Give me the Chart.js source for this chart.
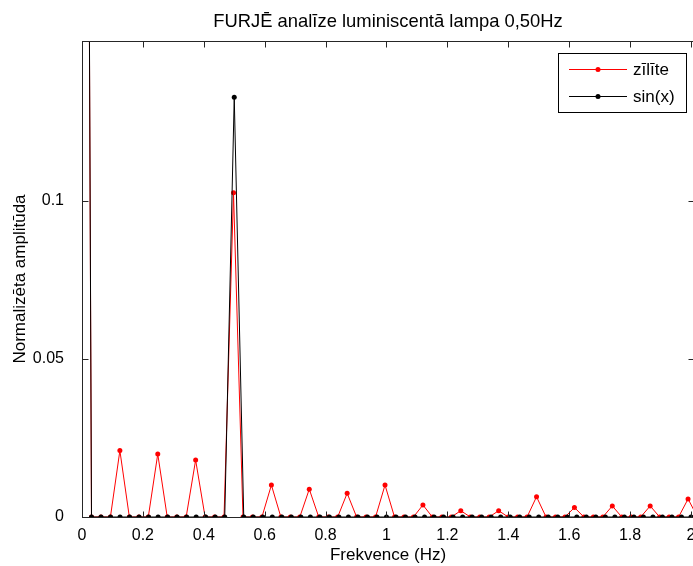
<!DOCTYPE html>
<html>
<head>
<meta charset="utf-8">
<script src="https://cdn.jsdelivr.net/npm/chart.js@4.4.1/dist/chart.umd.min.js"></script>
<style>
  html, body { margin: 0; padding: 0; background: #fff; overflow: hidden; }
  #wrap { width: 700px; height: 566px; }
</style>
</head>
<body>
<div id="wrap"><canvas id="chart" width="700" height="566"></canvas></div>
<script>
const titleText = 'FURJĒ analīze luminiscentā lampa 0,50Hz';
const xTitle = 'Frekvence (Hz)';
const yTitle = 'Normalizēta amplitūda';
const xTicks = [0, 0.2, 0.4, 0.6, 0.8, 1, 1.2, 1.4, 1.6, 1.8, 2];
const yTicks = [0, 0.05, 0.1];

// frequency resolution of each spectrum (Hz per bin)
const redStep = 0.0311;
const blackStep = 0.03125;

// "zīlīte" spectrum, bins 0..65
const redAmp = [
  0.7, 0, 0, 0, 0.021, 0, 0, 0,
  0.0199, 0, 0, 0, 0.018, 0, 0, 0,
  0.1025, 0, 0, 0, 0.0101, 0, 0, 0,
  0.0088, 0, 0, 0, 0.0075, 0, 0, 0,
  0.0101, 0, 0, 0, 0.0038, 0, 0, 0,
  0.002, 0, 0, 0, 0.002, 0, 0, 0,
  0.0064, 0, 0, 0, 0.003, 0, 0, 0,
  0.0035, 0, 0, 0, 0.0035, 0, 0, 0,
  0.0057, 0
];

// "sin(x)" spectrum, bins 0..65
const blackAmp = [
  0.7, 0, 0, 0, 0, 0, 0, 0,
  0, 0, 0, 0, 0, 0, 0, 0,
  0.1327, 0, 0, 0, 0, 0, 0, 0,
  0, 0, 0, 0, 0, 0, 0, 0,
  0, 0, 0, 0, 0, 0, 0, 0,
  0, 0, 0, 0, 0, 0, 0, 0,
  0, 0, 0, 0, 0, 0, 0, 0,
  0, 0, 0, 0, 0, 0, 0, 0,
  0, 0
];

const FONT = "'Liberation Sans', Arial, sans-serif";

function toPoints(amps, step) {
  return amps.map((v, i) => ({ x: i * step, y: v }));
}

function series(label, color, data, order) {
  return {
    label,
    data,
    order,
    borderColor: color,
    backgroundColor: color,
    borderWidth: 1,
    pointRadius: 2.5,
    pointHoverRadius: 2.5,
    pointBorderWidth: 0,
    tension: 0,
    fill: false
  };
}

// title centred over the axes, as MATLAB does
const axesTitle = {
  id: 'axesTitle',
  afterDraw(chart) {
    const { ctx, chartArea: a } = chart;
    ctx.save();
    ctx.fillStyle = '#000';
    ctx.font = '18.4px ' + FONT;
    ctx.textAlign = 'center';
    ctx.textBaseline = 'middle';
    ctx.fillText(titleText, (a.left + a.right) / 2, 21.7);
    ctx.restore();
  }
};

// MATLAB style box with inward ticks
const axesBox = {
  id: 'axesBox',
  afterDatasetsDraw(chart) {
    const { ctx, chartArea: a, scales: { x, y } } = chart;
    const L = Math.round(a.left) + 0.5, R = Math.round(a.right) + 0.5;
    const T = Math.round(a.top) + 0.5, B = Math.round(a.bottom) + 0.5;
    ctx.save();
    ctx.strokeStyle = '#262626';
    ctx.lineWidth = 1;
    ctx.beginPath();
    xTicks.forEach(v => {
      const px = Math.round(x.getPixelForValue(v)) + 0.5;
      ctx.moveTo(px, B); ctx.lineTo(px, B - 6);
      ctx.moveTo(px, T); ctx.lineTo(px, T + 6);
    });
    yTicks.forEach(v => {
      const py = Math.round(y.getPixelForValue(v)) + 0.5;
      ctx.moveTo(L, py); ctx.lineTo(L + 6, py);
      ctx.moveTo(R, py); ctx.lineTo(R - 6, py);
    });
    ctx.stroke();
    ctx.strokeRect(L, T, R - L, B - T);
    ctx.restore();
  }
};

// legend box in the upper right corner
const boxLegend = {
  id: 'boxLegend',
  afterDraw(chart) {
    const { ctx } = chart;
    const items = [chart.data.datasets[0], chart.data.datasets[1]];
    ctx.save();
    ctx.fillStyle = '#fff';
    ctx.fillRect(558, 53, 128, 59);
    ctx.strokeStyle = '#000';
    ctx.lineWidth = 1;
    ctx.strokeRect(558.5, 53.5, 128, 59);
    items.forEach((ds, i) => {
      const yy = 69 + i * 27;
      ctx.strokeStyle = ds.borderColor;
      ctx.beginPath();
      ctx.moveTo(569, yy + 0.5);
      ctx.lineTo(627, yy + 0.5);
      ctx.stroke();
      ctx.fillStyle = ds.borderColor;
      ctx.beginPath();
      ctx.arc(598, yy + 0.5, 2.5, 0, Math.PI * 2);
      ctx.fill();
      ctx.fillStyle = '#000';
      ctx.font = '17px ' + FONT;
      ctx.textBaseline = 'middle';
      ctx.fillText(ds.label, 633, yy + 1);
    });
    ctx.restore();
  }
};

new Chart(document.getElementById('chart'), {
  type: 'line',
  data: {
    datasets: [
      series('zīlīte', '#ff0000', toPoints(redAmp, redStep), 1),
      series('sin(x)', '#000000', toPoints(blackAmp, blackStep), 0)
    ]
  },
  options: {
    responsive: false,
    animation: false,
    layout: { padding: { left: 0, right: 6, top: 41, bottom: 0 } },
    plugins: {
      legend: { display: false },
      tooltip: { enabled: false },
      title: { display: false }
    },
    scales: {
      x: {
        type: 'linear',
        min: 0,
        max: 2.0099,
        afterFit(scale) { scale.height = 49; },
        afterBuildTicks(scale) { scale.ticks = xTicks.map(v => ({ value: v })); },
        grid: { display: false },
        border: { display: false },
        ticks: {
          color: '#000',
          padding: 1,
          maxRotation: 0,
          font: { family: FONT, size: 16 },
          callback: v => String(v)
        },
        title: {
          display: true,
          text: xTitle,
          color: '#000',
          font: { family: FONT, size: 17 },
          padding: { top: 0, bottom: 0 }
        }
      },
      y: {
        min: 0,
        max: 0.1505,
        afterFit(scale) { scale.width = 82; },
        afterBuildTicks(scale) { scale.ticks = yTicks.map(v => ({ value: v })); },
        grid: { display: false },
        border: { display: false },
        ticks: {
          color: '#000',
          padding: 10,
          font: { family: FONT, size: 16 },
          callback: v => String(v)
        },
        title: {
          display: true,
          text: yTitle,
          color: '#000',
          font: { family: FONT, size: 17 },
          padding: { top: 10, bottom: 0 }
        }
      }
    }
  },
  plugins: [axesTitle, axesBox, boxLegend]
});
</script>
</body>
</html>
